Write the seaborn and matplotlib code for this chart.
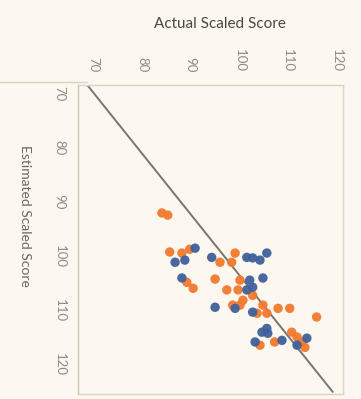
import matplotlib
matplotlib.use("Agg")
import matplotlib.pyplot as plt
import seaborn as sns
import pandas as pd
from matplotlib.lines import Line2D

# Scores for the two groups (actual vs. estimated scaled score)
orange_actual = [84.1, 85.3, 85.7, 88.2, 89.8, 89.2, 90.5, 95.0, 96.0, 98.4,
                 99.1, 97.4, 100.1, 99.7, 100.7, 98.6, 100.1, 102.7, 104.8, 103.6,
                 105.6, 107.9, 110.3, 115.8, 104.2, 107.2, 110.7, 111.8, 112.8, 113.4]
orange_estimated = [92.0, 92.4, 99.2, 99.4, 98.7, 104.8, 105.9, 104.2, 101.1, 101.1,
                    99.4, 106.2, 104.4, 106.2, 108.1, 109.0, 109.0, 107.2, 109.0, 110.5,
                    110.5, 109.6, 109.6, 111.2, 116.4, 115.8, 114.0, 114.9, 115.8, 116.8]

blue_actual = [86.8, 88.8, 90.9, 88.2, 94.3, 101.5, 102.7, 104.2, 105.6, 102.1,
               104.8, 101.5, 102.7, 95.0, 99.1, 102.7, 104.6, 105.8, 105.6, 103.2,
               108.7, 113.8, 111.8]
blue_estimated = [101.1, 100.7, 98.5, 104.0, 100.2, 100.2, 100.3, 100.7, 99.4, 104.4,
                  104.0, 106.2, 105.7, 109.4, 109.6, 110.3, 114.0, 114.2, 113.3, 115.8,
                  115.5, 115.1, 116.4]

# Reference line end points
line_actual = [68.8, 119.1]
line_estimated = [68.4, 125.0]

tick_values = [70, 80, 90, 100, 110, 120]

df = pd.DataFrame({
    "actual": orange_actual + blue_actual,
    "estimated": orange_estimated + blue_estimated,
    "group": ["Cohort 2"] * len(orange_actual) + ["Cohort 1"] * len(blue_actual),
})

sns.set_theme(style="white")
plt.rcParams["font.family"] = ["Lato", "DejaVu Sans"]

bg = "#fcf8ef"
fig = plt.figure(figsize=(3.61, 3.99), dpi=100, facecolor=bg)
ax = fig.add_axes([0.216, 0.0125, 0.734, 0.7745], facecolor=bg)

ax.plot(line_actual, line_estimated, color="#7a7470", lw=1.4, zorder=1)

sns.scatterplot(data=df, x="actual", y="estimated", hue="group",
                palette={"Cohort 1": "#40609c", "Cohort 2": "#f27a2e"},
                s=46, linewidth=0, alpha=0.95, legend=False, ax=ax, zorder=2)

ax.set_xlim(66.9, 121.2)
ax.set_ylim(125.4, 68.4)
ax.xaxis.tick_top()
ax.set_xticks(tick_values)
ax.set_yticks(tick_values)
ax.set_xticklabels([str(v) for v in tick_values], rotation=-90)
ax.set_yticklabels([str(v) for v in tick_values], rotation=-90, va="center")
ax.tick_params(axis="both", length=0, labelsize=9.5, colors="#8f8a84")
ax.tick_params(axis="x", pad=9)
ax.tick_params(axis="y", pad=9)
ax.set_xlabel("")
ax.set_ylabel("")

for side in ["left", "right", "top", "bottom"]:
    ax.spines[side].set_color("#d9d3ca")
    ax.spines[side].set_linewidth(1.0)
ax.spines["left"].set_color("#c9c3ba")

# Chart border running along the top edge
fig.add_artist(Line2D([0.0, 0.24], [0.795, 0.795], transform=fig.transFigure,
                      color="#d9d3ca", lw=1.0))

fig.text(0.61, 0.94, "Actual Scaled Score", ha="center", va="center",
         fontsize=11, color="#4a4643")
fig.text(0.07, 0.46, "Estimated Scaled Score", ha="center", va="center",
         rotation=-90, fontsize=10, color="#6b6661")

fig.savefig("out.png", dpi=100, facecolor=bg)
